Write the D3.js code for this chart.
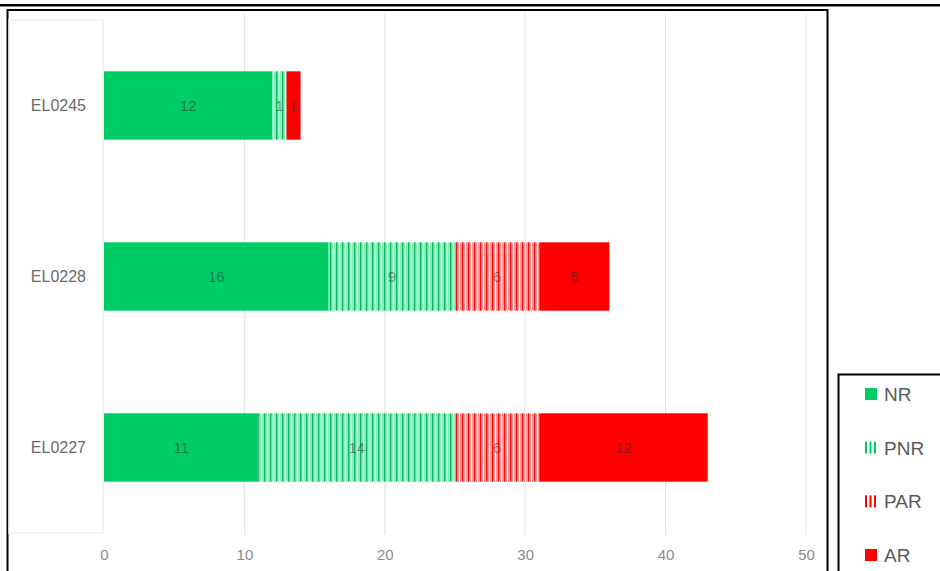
<!DOCTYPE html>
<html><head><meta charset="utf-8">
<script src="https://cdn.jsdelivr.net/npm/d3@7"></script>
<style>body{margin:0;background:#fff;}svg{display:block;}</style>
</head><body>
<svg id="chart" width="940" height="571"></svg>
<script>
const categories = ["EL0245", "EL0228", "EL0227"];
const seriesNames = ["NR", "PNR", "PAR", "AR"];
const NR  = [12, 16, 11];
const PNR = [1, 9, 14];
const PAR = [0, 6, 6];
const AR  = [1, 5, 12];
const xTicks = [0, 10, 20, 30, 40, 50];

const svg = d3.select("#chart");
const defs = svg.append("defs");
function stripe(id, base, dark) {
  const p = defs.append("pattern").attr("id", id).attr("patternUnits", "userSpaceOnUse")
    .attr("width", 6).attr("height", 10);
  p.append("rect").attr("width", 6).attr("height", 10).attr("fill", base);
  p.append("rect").attr("x", 0).attr("width", 1.3).attr("height", 10).attr("fill", dark);
  p.append("rect").attr("x", 3).attr("width", 1).attr("height", 10).attr("fill", "#ffffff");
}
stripe("pnr", "#86eeb8", "#10b060");
stripe("par", "#ff9494", "#ee1010");
const fills = {NR: "#00cc66", PNR: "url(#pnr)", PAR: "url(#par)", AR: "#ff0000"};
const legendColors = {NR: "#00cc66", PNR: "#00cc66", PAR: "#ff0000", AR: "#ff0000"};

// top thick line and chart frame
svg.append("rect").attr("x", 0).attr("y", 4).attr("width", 940).attr("height", 2.5).attr("fill", "#000");
svg.append("rect").attr("x", 7.5).attr("y", 10).attr("width", 820).attr("height", 580)
  .attr("fill", "none").attr("stroke", "#000").attr("stroke-width", 2);

const x = d3.scaleLinear().domain([0, 50]).range([104, 806]);
const y = d3.scaleBand().domain(categories).range([20, 533]).paddingInner(0.6).paddingOuter(0.3);

// faint category panel
svg.append("rect").attr("x", 9).attr("y", 20).attr("width", 94).attr("height", 513)
  .attr("fill", "none").attr("stroke", "#efefef").attr("stroke-width", 1.5);

// gridlines
svg.append("g").selectAll("line").data(xTicks.slice(1)).join("line")
  .attr("x1", d => x(d)).attr("x2", d => x(d)).attr("y1", 14).attr("y2", 535)
  .attr("stroke", "#e4e4e4").attr("stroke-width", 1.2);

// x axis
const xAxis = svg.append("g").attr("transform", "translate(0,539)")
  .call(d3.axisBottom(x).tickValues(xTicks).tickSize(0).tickPadding(10));
xAxis.select(".domain").remove();
xAxis.selectAll("text").attr("fill", "#8a8a8a").style("font-family", "Liberation Sans, Arial, sans-serif").style("font-size", "15px");

// y axis labels
const yAxis = svg.append("g").attr("transform", "translate(86,0)")
  .call(d3.axisLeft(y).tickSize(0).tickPadding(0));
yAxis.select(".domain").remove();
yAxis.selectAll("text").attr("fill", "#6a6a6a").style("font-family", "Liberation Sans, Arial, sans-serif").style("font-size", "16px");

// stacked bars
const rows = categories.map((c, i) => ({cat: c, NR: NR[i], PNR: PNR[i], PAR: PAR[i], AR: AR[i]}));
const stacked = d3.stack().keys(seriesNames)(rows);
const g = svg.append("g");
stacked.forEach(layer => {
  const key = layer.key;
  const lg = g.append("g");
  lg.selectAll("rect").data(layer.filter(d => d[1] > d[0])).join("rect")
    .attr("x", d => x(d[0])).attr("width", d => x(d[1]) - x(d[0]))
    .attr("y", d => y(d.data.cat)).attr("height", y.bandwidth())
    .attr("fill", fills[key]);
  lg.selectAll("text").data(layer.filter(d => d[1] > d[0])).join("text")
    .attr("x", d => (x(d[0]) + x(d[1])) / 2)
    .attr("y", d => y(d.data.cat) + y.bandwidth() / 2 + 5)
    .attr("text-anchor", "middle")
    .attr("fill", "#303030").attr("fill-opacity", 0.55)
    .style("font-family", "Liberation Sans, Arial, sans-serif").style("font-size", "15px")
    .text(d => d[1] - d[0]);
});

// legend
svg.append("rect").attr("x", 838.5).attr("y", 374.5).attr("width", 120).attr("height", 220)
  .attr("fill", "#fff").attr("stroke", "#000").attr("stroke-width", 2);
const legendY = d3.scalePoint().domain(seriesNames).range([394, 555]);
const lgd = svg.append("g");
seriesNames.forEach(s => {
  const cy = legendY(s);
  if (s === "NR" || s === "AR") {
    lgd.append("rect").attr("x", 865).attr("y", cy - 6).attr("width", 12).attr("height", 12).attr("fill", legendColors[s]);
  } else {
    [0, 1, 2].forEach(k => lgd.append("rect").attr("x", 865 + k * 4.5).attr("y", cy - 6)
      .attr("width", 2).attr("height", 12).attr("fill", legendColors[s]));
  }
  lgd.append("text").attr("x", 884).attr("y", cy + 7).text(s)
    .attr("fill", "#595959").style("font-family", "Liberation Sans, Arial, sans-serif").style("font-size", "19px");
});
</script>
</body></html>
